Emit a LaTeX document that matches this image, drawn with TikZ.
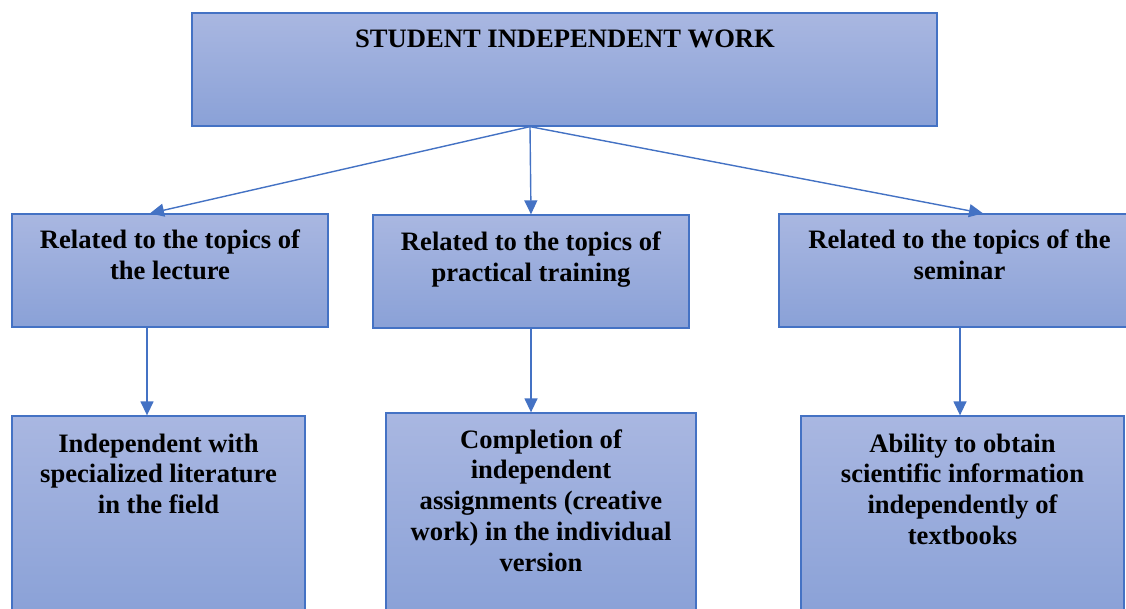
\documentclass[tikz,border=0pt]{standalone}
\usepackage{fontspec}
\setmainfont{Liberation Serif}
\usetikzlibrary{arrows.meta}
\definecolor{bord}{HTML}{4472C4}
\definecolor{topc}{HTML}{A9B7E1}
\definecolor{botc}{HTML}{8AA1D7}
\begin{document}
\begin{tikzpicture}[x=1pt,y=-1pt,
  box/.style={draw=bord, line width=1.3pt, top color=topc, bottom color=botc, inner sep=0pt},
  txt/.style={align=center, inner sep=0pt, anchor=base, font=\fontsize{26.6}{30.8}\selectfont\bfseries},
  arr/.style={draw=bord, line width=1.4pt, -{Triangle[length=14pt,width=13pt]}}]
\useasboundingbox (0,0) rectangle (1126,609);
\clip (0,0) rectangle (1126,609);
\fill[white] (0,0) rectangle (1126,609);
% boxes
\node[box, minimum width=745pt, minimum height=113pt] (top) at (564.5,69.5) {};
\node[box, minimum width=316pt, minimum height=113pt] (lec) at (170,270.5) {};
\node[box, minimum width=316pt, minimum height=113pt] (prac) at (531,271.5) {};
\node[box, minimum width=351pt, minimum height=113pt] (sem) at (954.5,270.5) {};
\node[box, minimum width=293pt, minimum height=199pt] (lit) at (158.5,515.5) {};
\node[box, minimum width=310pt, minimum height=202pt] (comp) at (541,514) {};
\node[box, minimum width=323pt, minimum height=199pt] (abil) at (962.5,515.5) {};
% texts (anchor base = baseline of the last line)
\node[txt] (topt) at (565,48) {STUDENT INDEPENDENT WORK};
\node[txt] (lect) at (170,279.8) {Related to the topics of\\the lecture};
\node[txt] (pract) at (531,281.8) {Related to the topics of\\practical training};
\node[txt] (semt) at (959.5,279.8) {Related to the topics of the\\seminar};
\node[txt] (litt) at (158.5,513.6) {Independent with\\specialized literature\\in the field};
\node[txt] (compt) at (541,571.2) {Completion of\\independent\\assignments (creative\\work) in the individual\\version};
\node[txt] (abilt) at (962.5,544.4) {Ability to obtain\\scientific information\\independently of\\textbooks};
% connectors
\coordinate (fan) at ([xshift=-34.5pt]top.south);
\draw[arr] (fan) -- ([xshift=-20pt]lec.north);
\draw[arr] (fan) -- (prac.north);
\draw[arr] (fan) -- ([xshift=28.5pt]sem.north);
\draw[arr] ([xshift=-23pt]lec.south) -- ([xshift=-11.5pt]lit.north);
\draw[arr] (prac.south) -- ([xshift=-10pt]comp.north);
\draw[arr] ([xshift=5.5pt]sem.south) -- ([xshift=-2.5pt]abil.north);
\end{tikzpicture}
\end{document}
